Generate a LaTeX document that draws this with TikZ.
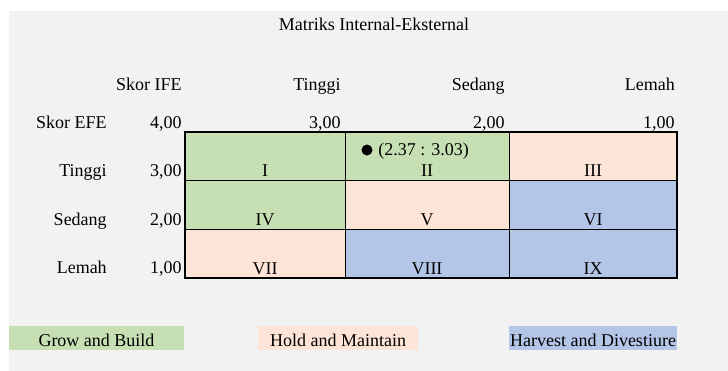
\documentclass[tikz,border=0pt]{standalone}
\usepackage{fontspec}
\setmainfont{Liberation Serif}

\definecolor{sheetgray}{HTML}{F2F2F2}
\definecolor{growgreen}{HTML}{C6E0B4}
\definecolor{holdpink}{HTML}{FCE4D6}
\definecolor{harvblue}{HTML}{B4C6E7}

\begin{document}
\begin{tikzpicture}[x=0.75pt,y=-0.75pt,
  every node/.style={font=\fontsize{13.5}{16}\selectfont, inner sep=0pt},
  rlabel/.style={anchor=base east},
  clabel/.style={anchor=base}]
  \useasboundingbox (0,0) rectangle (728,371);
  \fill[white] (0,0) rectangle (728,371);
  \fill[sheetgray] (9,11) rectangle (728,371);

  \node[clabel] (title) at (374,31) {Matriks Internal-Eksternal};

  % column heads
  \node[rlabel] (ife) at (182,90.7) {Skor IFE};
  \node[rlabel] (ifehigh) at (341,90.7) {Tinggi};
  \node[rlabel] (ifemid) at (505,90.7) {Sedang};
  \node[rlabel] (ifelow) at (675,90.7) {Lemah};
  \node[rlabel] (efe) at (107,128) {Skor EFE};
  \node[rlabel] (s4) at (182,128) {4,00};
  \node[rlabel] (s3) at (341,128) {3,00};
  \node[rlabel] (s2) at (505,128) {2,00};
  \node[rlabel] (s1) at (675,128) {1,00};

  % row heads
  \node[rlabel] (efehigh) at (107,176.5) {Tinggi};
  \node[rlabel] (efemid) at (107,225) {Sedang};
  \node[rlabel] (efelow) at (107,273.5) {Lemah};
  \node[rlabel] (r3) at (182,176.5) {3,00};
  \node[rlabel] (r2) at (182,225) {2,00};
  \node[rlabel] (r1) at (182,273.5) {1,00};

  % cells
  \foreach \xl/\xr/\yt/\yb/\col/\num/\name in {
      185/345/132/180.5/growgreen/I/c1,
      345/509/132/180.5/growgreen/II/c2,
      509/677/132/180.5/holdpink/III/c3,
      185/345/180.5/229/growgreen/IV/c4,
      345/509/180.5/229/holdpink/V/c5,
      509/677/180.5/229/harvblue/VI/c6,
      185/345/229/278/holdpink/VII/c7,
      345/509/229/278/harvblue/VIII/c8,
      509/677/229/278/harvblue/IX/c9} {
    \fill[\col] (\xl,\yt) rectangle (\xr,\yb);
    \node[clabel] (\name) at ({(\xl+\xr)/2},\yb-4) {\num};
  }
  \draw[line width=0.75pt] (345,132) -- (345,278) (509,132) -- (509,278)
    (185,180.5) -- (677,180.5) (185,229) -- (677,229);
  \draw[line width=1.5pt] (185,132) rectangle (677,278);

  % position of the firm
  \fill (367,150) circle [radius=5.5];
  \node[anchor=base west] (pos) at (378,155) {(2.37 : 3.03)};

  % legend
  \fill[growgreen] (9,326) rectangle (184,350);
  \fill[holdpink] (258,326) rectangle (418,350);
  \fill[harvblue] (509,326) rectangle (677,350);
  \node[clabel] (grow) at (96.5,346) {Grow and Build};
  \node[clabel] (hold) at (338,346) {Hold and Maintain};
  \node[clabel] (harvest) at (593,346) {Harvest and Divestiure};
\end{tikzpicture}
\end{document}
